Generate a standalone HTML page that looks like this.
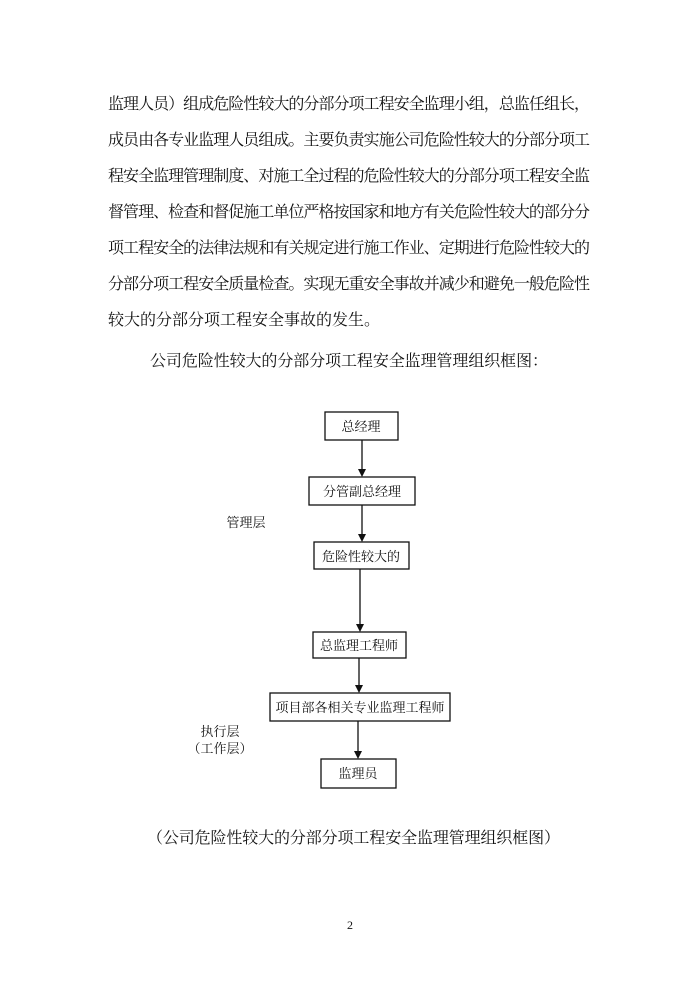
<!DOCTYPE html>
<html><head><meta charset="utf-8"><style>
html,body{margin:0;padding:0;background:#fff;}
svg{display:block;}
text{font-family:"Liberation Serif","Noto Serif CJK SC","Noto Sans CJK SC",serif;fill:#111;}
</style></head><body>
<svg width="700" height="990" viewBox="0 0 700 990" xmlns="http://www.w3.org/2000/svg">
<g font-size="16">
<text x="108" y="109" textLength="482" lengthAdjust="spacing">监理人员）组成危险性较大的分部分项工程安全监理小组，总监任组长，</text>
<text x="108" y="145" textLength="482" lengthAdjust="spacing">成员由各专业监理人员组成。主要负责实施公司危险性较大的分部分项工</text>
<text x="108" y="181" textLength="482" lengthAdjust="spacing">程安全监理管理制度、对施工全过程的危险性较大的分部分项工程安全监</text>
<text x="108" y="217" textLength="482" lengthAdjust="spacing">督管理、检查和督促施工单位严格按国家和地方有关危险性较大的部分分</text>
<text x="108" y="253" textLength="482" lengthAdjust="spacing">项工程安全的法律法规和有关规定进行施工作业、定期进行危险性较大的</text>
<text x="108" y="289" textLength="482" lengthAdjust="spacing">分部分项工程安全质量检查。实现无重安全事故并减少和避免一般危险性</text>
<text x="108" y="325" textLength="272" lengthAdjust="spacing">较大的分部分项工程安全事故的发生。</text>
<text x="150" y="366" textLength="398" lengthAdjust="spacing">公司危险性较大的分部分项工程安全监理管理组织框图：</text>
<text x="147" y="843" textLength="413" lengthAdjust="spacing">（公司危险性较大的分部分项工程安全监理管理组织框图）</text>
</g>
<g fill="none" stroke="#111" stroke-width="1.3">
<rect x="325" y="412" width="73" height="28"/>
<rect x="309" y="477" width="106" height="28"/>
<rect x="314" y="542" width="95" height="27"/>
<rect x="313" y="632" width="93" height="26"/>
<rect x="270" y="693" width="180" height="28"/>
<rect x="321" y="759" width="75" height="29"/>
<line x1="362" y1="440" x2="362" y2="470"/>
<line x1="362" y1="505" x2="362" y2="535"/>
<line x1="360" y1="569" x2="360" y2="625"/>
<line x1="359" y1="658" x2="359" y2="686"/>
<line x1="358" y1="721" x2="358" y2="752"/>
</g>
<g fill="#111">
<polygon points="358,469 366,469 362,477"/>
<polygon points="358,534 366,534 362,542"/>
<polygon points="356,624 364,624 360,632"/>
<polygon points="355,685 363,685 359,693"/>
<polygon points="354,751 362,751 358,759"/>
</g>
<g font-size="13" text-anchor="middle">
<text x="361" y="431">总经理</text>
<text x="362" y="496">分管副总经理</text>
<text x="361" y="561">危险性较大的</text>
<text x="359" y="650">总监理工程师</text>
<text x="360" y="712">项目部各相关专业监理工程师</text>
<text x="358" y="778">监理员</text>
<text x="246" y="527">管理层</text>
<text x="220" y="736">执行层</text>
<text x="220" y="753">（工作层）</text>
<text x="350" y="929" font-size="12">2</text>
</g>
</svg>
</body></html>
